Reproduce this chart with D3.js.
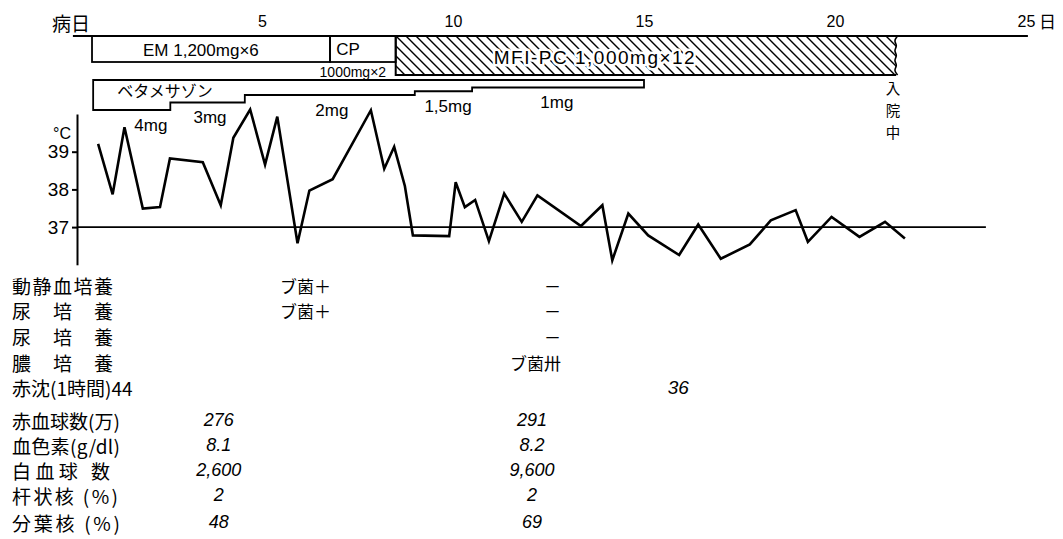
<!DOCTYPE html>
<html>
<head>
<meta charset="utf-8">
<script src="https://cdn.jsdelivr.net/npm/d3@7"></script>
<style>
  html, body { margin: 0; padding: 0; background: #fff; }
  svg { display: block; }
  text { font-family: "Noto Sans CJK JP", "Noto Sans", sans-serif; fill: #000; }
  .num { font-family: "Liberation Sans Narrow", "Liberation Sans", sans-serif; font-style: italic; }
  .lat { font-family: "Liberation Sans", "DejaVu Sans", sans-serif; }
</style>
</head>
<body>
<svg id="chart" width="1063" height="539"></svg>
<script>
// ---------------- DATA ----------------
const dayTicks = [5, 10, 15, 20, 25];
const tempTicks = [37, 38, 39];

// body temperature (illness day, °C)
const tempDays = [0.71, 1.09, 1.40, 1.88, 2.33, 2.59, 3.45, 3.92, 4.25, 4.69, 5.08, 5.40, 5.93, 6.24, 6.85,
  7.85, 8.20, 8.46, 8.74, 8.95, 9.90, 10.07, 10.31, 10.58, 10.94, 11.34, 11.80, 12.21, 13.35, 13.91,
  14.17, 14.59, 15.11, 15.92, 16.42, 17.01, 17.77, 18.32, 18.97, 19.29, 19.91, 20.64, 21.31, 21.83];
const tempValues = [39.21, 37.87, 39.65, 37.49, 37.53, 38.82, 38.72, 37.58, 39.37, 40.12, 38.66, 39.93, 36.57, 37.97, 38.27,
  40.10, 38.55, 39.13, 38.09, 36.78, 36.76, 38.19, 37.53, 37.72, 36.63, 37.89, 37.14, 37.84, 37.03, 37.58,
  36.12, 37.36, 36.78, 36.26, 37.07, 36.16, 36.54, 37.18, 37.45, 36.61, 37.27, 36.74, 37.14, 36.70];

// antibiotics
const abNames = ["EM 1,200mg×6", "CP", "MFI-PC 1,000mg×12"];
const abStart = [0.55, 6.78, 8.5];
const abEnd = [6.78, 8.5, 21.6];
const cpNote = "1000mg×2";

// betamethasone taper
const betaName = "ベタメサゾン";
const betaStart = [0.58, 2.6, 4.55, 9.0, 10.5];
const betaEnd = [2.6, 4.55, 9.0, 10.5, 15.0];
const betaDose = [4, 3, 2, 1.5, 1];
const betaLabels = ["4mg", "3mg", "2mg", "1,5mg", "1mg"];
const betaLabelDay = [2.09, 3.64, 6.83, 9.87, 12.72];

// cultures
const cultureLabels = ["動静血培養", "尿 培 養", "尿 培 養", "膿 培 養"];
const cultureDays = [5.47, 12.83];
const cultureEarly = ["ブ菌＋", "ブ菌＋", "", ""];
const cultureLate = ["－", "－", "－", "ブ菌卅"];

// ESR
const esrLabel = "赤沈(1時間)44";
const esrDay = 15.9;
const esrLate = "36";

// blood tests
const labLabels = ["赤血球数(万)", "血色素(g/dl)", "白血球 数", "杆状核 (%)", "分葉核 (%)"];
const labDays = [3.87, 12.07];
const labEarly = ["276", "8.1", "2,600", "2", "48"];
const labLate = ["291", "8.2", "9,600", "2", "69"];

const dischargeNote = ["入", "院", "中"];
const dischargeDay = 21.6;

// ---------------- LAYOUT ----------------
const svg = d3.select("#chart");
svg.append("rect").attr("width", 1063).attr("height", 539).attr("fill", "#fff");

const x = d3.scaleLinear().domain([0, 25]).range([71, 1026]);
const y = d3.scaleLinear().domain([36, 40]).range([264.8, 114]);
const axisY = 36;
const betaTop = 80;
const yDose = d3.scaleLinear().domain([0, 4]).range([betaTop, 110]);

// hatch pattern
const defs = svg.append("defs");
const pat = defs.append("pattern").attr("id", "hatch").attr("patternUnits", "userSpaceOnUse")
  .attr("width", 10).attr("height", 10);
pat.append("path").attr("d", "M-1,9 l2,2 M0,0 l10,10 M9,-1 l2,2")
  .attr("stroke", "#000").attr("stroke-width", 1.4);

// top day axis
svg.append("line").attr("x1", x(0.05)).attr("x2", x(25.05)).attr("y1", axisY).attr("y2", axisY)
  .attr("stroke", "#000").attr("stroke-width", 2);
svg.append("text").attr("x", x(0) - 19).attr("y", 22).attr("dominant-baseline", "central")
  .attr("font-size", 19).text("病日");
const topAxis = d3.axisTop(x).tickValues(dayTicks).tickSize(0).tickPadding(0)
  .tickFormat(d => d);
const gTop = svg.append("g").attr("transform", `translate(0,${axisY - 9})`).call(topAxis);
gTop.select(".domain").remove();
gTop.selectAll("text").attr("class", "lat").attr("font-size", 16).attr("fill", "#000");
svg.append("text").attr("x", x(25) + 13).attr("y", 20).attr("dominant-baseline", "central")
  .attr("font-size", 17).text("日");

// antibiotic boxes
const boxBottom = [62, 62, 75];
abNames.forEach((name, i) => {
  const x0 = x(abStart[i]), x1 = x(abEnd[i]), yb = boxBottom[i];
  if (i === 2) {
    svg.append("rect").attr("x", x0).attr("y", axisY).attr("width", x1 - x0).attr("height", yb - axisY)
      .attr("fill", "url(#hatch)");
    svg.append("path").attr("d", `M${x1},${axisY} L${x0},${axisY} L${x0},${yb} L${x1},${yb}`)
      .attr("fill", "none").attr("stroke", "#000").attr("stroke-width", 2);
    const wav = d3.range(0, 9).map(k => [x1 + (k % 2 ? -2.5 : 1.5), axisY + k * (yb - axisY) / 8]);
    svg.append("path").attr("d", d3.line().curve(d3.curveBasis)(wav))
      .attr("fill", "none").attr("stroke", "#000").attr("stroke-width", 1.6);
  } else {
    svg.append("rect").attr("x", x0).attr("y", axisY).attr("width", x1 - x0).attr("height", yb - axisY)
      .attr("fill", "none").attr("stroke", "#000").attr("stroke-width", 1.8);
  }
});
svg.append("text").attr("class", "lat").attr("x", 143).attr("y", 50).attr("dominant-baseline", "central")
  .attr("font-size", 17).text(abNames[0]);
svg.append("text").attr("class", "lat").attr("x", x(abStart[1]) + 18).attr("y", 49).attr("text-anchor", "middle")
  .attr("dominant-baseline", "central").attr("font-size", 17).text(abNames[1]);
svg.append("text").attr("class", "lat").attr("x", (x(abStart[1]) + x(abEnd[1])) / 2 - 10).attr("y", 72)
  .attr("text-anchor", "middle").attr("dominant-baseline", "central").attr("font-size", 14).text(cpNote);
svg.append("text").attr("class", "lat").attr("x", 595).attr("y", 57).attr("text-anchor", "middle")
  .attr("dominant-baseline", "central").attr("font-size", 19).attr("letter-spacing", 1.5)
  .attr("stroke", "#fff").attr("stroke-width", 5).attr("stroke-linejoin", "round").attr("paint-order", "stroke")
  .text(abNames[2]);

// betamethasone step box
const betaPts = [[x(betaStart[0]), betaTop], [x(betaEnd[betaEnd.length - 1]), betaTop]];
for (let i = betaDose.length - 1; i >= 0; i--) {
  betaPts.push([x(betaEnd[i]), yDose(betaDose[i])]);
  betaPts.push([x(betaStart[i]), yDose(betaDose[i])]);
}
const betaPath = "M" + betaPts.map(p => p.join(",")).join(" L") + " Z";
svg.append("path").attr("d", betaPath).attr("fill", "none").attr("stroke", "#000").attr("stroke-width", 1.8);
svg.append("text").attr("x", x(betaStart[0]) + 24).attr("y", 90).attr("dominant-baseline", "central")
  .attr("font-size", 16).text(betaName);
betaLabels.forEach((t, i) => {
  svg.append("text").attr("class", "lat").attr("x", x(betaLabelDay[i])).attr("y", yDose(betaDose[i]) + 15)
    .attr("text-anchor", "middle").attr("dominant-baseline", "central").attr("font-size", 17).text(t);
});

// discharge note (vertical)
dischargeNote.forEach((c, i) => {
  svg.append("text").attr("x", x(dischargeDay) - 3).attr("y", 87 + i * 22).attr("text-anchor", "middle")
    .attr("dominant-baseline", "central").attr("font-size", 14.5).attr("fill", "#000").text(c);
});

// temperature axis
const axX = 77;
const leftAxis = d3.axisLeft(y).tickValues(tempTicks).tickSize(5).tickSizeOuter(0).tickPadding(3)
  .tickFormat(d => d);
const gL = svg.append("g").attr("transform", `translate(${axX},0)`).call(leftAxis);
gL.select(".domain").attr("stroke-width", 2);
gL.selectAll(".tick line").attr("stroke-width", 2);
gL.selectAll("text").attr("class", "lat").attr("font-size", 19).attr("fill", "#000");
svg.append("text").attr("class", "lat").attr("x", 53).attr("y", 133).attr("dominant-baseline", "central")
  .attr("font-size", 16).text("°C");

// 37°C reference line
svg.append("line").attr("x1", axX).attr("x2", x(23.95)).attr("y1", y(37)).attr("y2", y(37))
  .attr("stroke", "#000").attr("stroke-width", 1.6);

// temperature curve
const line = d3.line().x((d, i) => x(tempDays[i])).y(d => y(d));
svg.append("path").attr("d", line(tempValues)).attr("fill", "none").attr("stroke", "#000")
  .attr("stroke-width", 2.6).attr("stroke-linejoin", "miter");

// ---------------- TABLE ----------------
const labelX = 12;
const cultureRowY = [285, 310, 336, 362];
const cultureLabelWidth = [101, 101, 101, 101];
cultureLabels.forEach((t, i) => {
  svg.append("text").attr("x", labelX).attr("y", cultureRowY[i]).attr("dominant-baseline", "central")
    .attr("font-size", 19).attr("textLength", cultureLabelWidth[i]).attr("lengthAdjust", "spacing").text(t);
  if (cultureEarly[i]) svg.append("text").attr("x", x(cultureDays[0])).attr("y", cultureRowY[i])
    .attr("dominant-baseline", "central").attr("font-size", 17).text(cultureEarly[i]);
  if (cultureLate[i]) svg.append("text").attr("x", x(cultureDays[1])).attr("y", cultureRowY[i])
    .attr("text-anchor", "end").attr("dominant-baseline", "central").attr("font-size", 17).text(cultureLate[i]);
});
svg.append("text").attr("x", labelX).attr("y", 387).attr("dominant-baseline", "central")
  .attr("font-size", 19).text(esrLabel);
svg.append("text").attr("class", "num").attr("x", x(esrDay)).attr("y", 387).attr("text-anchor", "middle")
  .attr("dominant-baseline", "central").attr("font-size", 19).text(esrLate);

const labRowY = [420, 445, 470, 495, 522];
const labLabelWidth = [108, 108, 98, 106, 108];
labLabels.forEach((t, i) => {
  svg.append("text").attr("x", labelX).attr("y", labRowY[i]).attr("dominant-baseline", "central")
    .attr("font-size", 19).attr("textLength", labLabelWidth[i]).attr("lengthAdjust", "spacing").text(t);
  svg.append("text").attr("class", "num").attr("x", x(labDays[0])).attr("y", labRowY[i]).attr("text-anchor", "middle")
    .attr("dominant-baseline", "central").attr("font-size", 18).text(labEarly[i]);
  svg.append("text").attr("class", "num").attr("x", x(labDays[1])).attr("y", labRowY[i]).attr("text-anchor", "middle")
    .attr("dominant-baseline", "central").attr("font-size", 18).text(labLate[i]);
});
</script>
</body>
</html>
